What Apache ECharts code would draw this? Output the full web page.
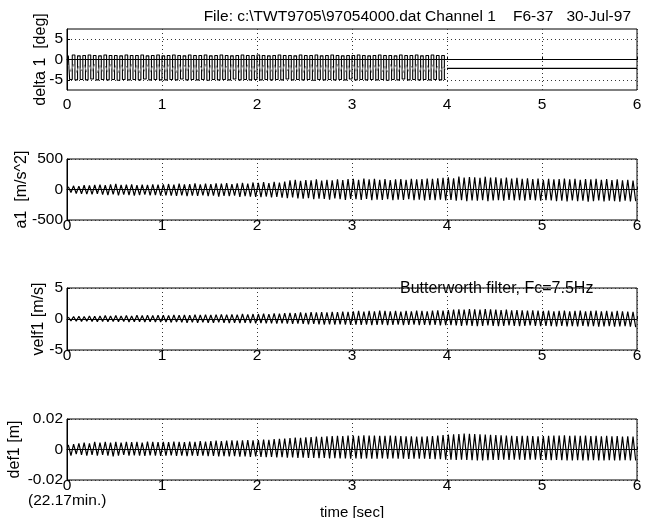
<!DOCTYPE html>
<html>
<head>
<meta charset="utf-8">
<script src="https://cdn.jsdelivr.net/npm/echarts@6/dist/echarts.min.js"></script>
<style>
html,body{margin:0;padding:0;background:#fff;}
#chart{width:650px;height:518px;}
</style>
</head>
<body>
<div id="chart"></div>
<script>
// ---- data ----
// samples are alternating peak / trough extremes, 36 per second
const HALF_CYCLE = 1 / 36;

// delta 1 [deg], 0..4 s (black command trace)
const delta1Values = [
 1.0,-4.9,1.1,-5.0,0.9,-4.9,1.0,-5.0,1.1,-4.8,1.0,-5.0,0.9,-4.9,1.1,-5.0,1.0,-4.9,1.0,-5.1,0.9,-4.9,1.1,-5.0,1.0,-4.9,1.0,-5.0,1.1,-4.8,0.9,-5.0,1.0,-4.9,1.1,-5.0,
 0.9,-5.0,1.0,-4.9,1.1,-5.0,1.0,-4.8,0.9,-5.0,1.1,-4.9,1.0,-5.0,1.0,-4.9,1.1,-5.1,0.9,-4.9,1.0,-5.0,1.1,-4.9,1.0,-5.0,0.9,-4.8,1.0,-5.0,1.1,-4.9,1.0,-5.0,1.0,-4.9,
 1.1,-5.0,1.0,-4.9,0.9,-5.0,1.0,-4.9,1.1,-5.0,1.0,-4.8,1.0,-5.0,0.9,-4.9,1.1,-5.0,1.0,-4.9,1.0,-5.1,1.1,-4.9,0.9,-5.0,1.0,-4.9,1.1,-5.0,1.0,-4.9,0.9,-5.0,1.0,-4.8,
 1.0,-5.0,1.1,-4.9,1.0,-5.0,0.9,-4.9,1.0,-5.0,1.1,-4.9,1.0,-5.1,1.0,-4.9,0.9,-5.0,1.1,-4.8,1.0,-5.0,1.0,-4.9,1.1,-5.0,0.9,-4.9,1.0,-5.0,1.1,-4.9,1.0,-5.0,1.0,-4.9
];
// delta 1 grey (measured) trace, 0..4 s
const delta1GreyValues = [
 -1.4,-3.0,-1.2,-3.2,-1.6,-2.8,-1.3,-3.1,-1.5,-2.9,-1.1,-3.3,-1.4,-2.9,-1.6,-3.1,-1.2,-3.0,-1.5,-3.2,-1.3,-2.8,-1.6,-3.1,-1.2,-3.0,-1.4,-3.2,-1.5,-2.9,-1.3,-3.1,-1.6,-3.0,-1.2,-2.9,
 -1.5,-3.1,-1.3,-2.9,-1.6,-3.2,-1.2,-3.0,-1.4,-2.8,-1.5,-3.1,-1.3,-3.0,-1.6,-2.9,-1.2,-3.2,-1.4,-3.0,-1.5,-2.9,-1.3,-3.1,-1.6,-3.0,-1.2,-2.8,-1.4,-3.2,-1.5,-3.0,-1.3,-2.9,-1.6,-3.1,
 -1.2,-3.0,-1.4,-3.2,-1.5,-2.9,-1.3,-3.1,-1.6,-3.0,-1.2,-2.8,-1.4,-3.1,-1.5,-3.0,-1.3,-3.2,-1.6,-2.9,-1.2,-3.0,-1.4,-3.1,-1.5,-2.9,-1.3,-3.0,-1.6,-3.2,-1.2,-2.9,-1.4,-3.1,-1.5,-3.0,
 -1.3,-2.9,-1.6,-3.1,-1.2,-3.0,-1.4,-3.2,-1.5,-2.8,-1.3,-3.0,-1.6,-3.1,-1.2,-2.9,-1.4,-3.0,-1.5,-3.2,-1.3,-2.9,-1.6,-3.0,-1.2,-3.1,-1.4,-2.9,-1.5,-3.0,-1.3,-3.2,-1.6,-2.9,-1.8,-2.4
];
// delta 1 held value after 4 s
const delta1HoldTimes = [4.0, 6.0];
const delta1HoldValues = [-2.2, -2.2];

// a1 [m/s^2]
const a1Values = [
 45,-50,60,-65,55,-70,70,-75,65,-80,75,-70,80,-85,70,-90,85,-80,90,-95,75,-85,80,-90,85,-100,70,-90,80,-85,75,-95,85,-90,80,-100,
 85,-95,90,-100,80,-105,95,-95,85,-110,90,-100,100,-105,85,-95,95,-110,90,-100,100,-115,95,-105,105,-110,90,-100,100,-120,110,-110,95,-115,115,-120,
 110,-125,120,-115,105,-130,125,-120,115,-135,130,-140,150,-130,160,-145,140,-150,155,-140,150,-160,165,-150,145,-155,160,-165,150,-145,165,-160,155,-170,170,-155,
 175,-160,160,-170,180,-155,165,-175,175,-165,160,-170,170,-160,155,-175,165,-165,170,-170,160,-160,175,-175,165,-165,170,-180,180,-170,175,-175,185,-165,190,-180,
 200,-170,185,-185,210,-175,195,-190,205,-180,200,-185,190,-175,210,-190,195,-180,200,-175,185,-185,195,-170,180,-180,190,-175,175,-185,185,-170,170,-180,180,-185,
 160,-175,175,-180,165,-190,170,-185,180,-195,165,-180,175,-190,160,-185,170,-200,165,-190,175,-180,160,-195,170,-185,155,-190,165,-200,150,-185,160,-195,145,-190
];

// velf1 [m/s]
const velf1Values = [
 .3,-.3,.4,-.35,.45,-.4,.4,-.35,.5,-.4,.45,-.45,.5,-.4,.55,-.45,.5,-.4,.55,-.45,.5,-.4,.55,-.5,.5,-.45,.6,-.45,.55,-.5,.6,-.45,.55,-.5,.6,-.5,
 .6,-.5,.55,-.55,.65,-.5,.6,-.55,.65,-.6,.6,-.55,.7,-.6,.65,-.55,.7,-.6,.65,-.6,.7,-.55,.75,-.6,.7,-.65,.75,-.6,.7,-.65,.8,-.6,.75,-.65,.8,-.7,
 .8,-.65,.85,-.7,.8,-.7,.9,-.75,.85,-.7,.95,-.75,1.0,-.8,.95,-.75,1.05,-.8,1.0,-.85,1.1,-.8,1.05,-.85,1.1,-.9,1.05,-.85,1.15,-.9,1.1,-.85,1.2,-.9,1.15,-.95,
 1.25,-.9,1.3,-.95,1.2,-.9,1.3,-1.0,1.25,-.95,1.35,-.9,1.3,-1.0,1.25,-.95,1.3,-.9,1.2,-1.0,1.3,-.95,1.25,-.9,1.35,-1.0,1.3,-.95,1.25,-1.0,1.35,-.95,1.4,-1.05,1.35,-1.0,
 1.45,-1.0,1.5,-1.05,1.55,-1.1,1.5,-1.05,1.6,-1.1,1.55,-1.15,1.5,-1.1,1.6,-1.05,1.55,-1.1,1.5,-1.15,1.45,-1.1,1.5,-1.05,1.4,-1.1,1.45,-1.15,1.4,-1.1,1.35,-1.05,1.4,-1.1,1.35,-1.15,
 1.3,-1.1,1.35,-1.15,1.25,-1.2,1.3,-1.1,1.35,-1.2,1.25,-1.15,1.3,-1.2,1.35,-1.1,1.25,-1.2,1.3,-1.15,1.35,-1.25,1.25,-1.2,1.3,-1.15,1.2,-1.25,1.3,-1.2,1.25,-1.15,1.2,-1.25,1.15,-1.3
];

// def1 [m]
const def1Values = [
 .003,-.004,.0035,-.003,.004,-.0035,.0045,-.004,.004,-.0035,.005,-.004,.0045,-.0035,.005,-.004,.0045,-.0045,.005,-.004,.0045,-.0035,.005,-.004,.0048,-.0038,.005,-.004,.0045,-.0042,.0052,-.0038,.005,-.004,.0048,-.0042,
 .005,-.004,.0048,-.0038,.0052,-.0042,.005,-.004,.0048,-.0044,.0052,-.004,.005,-.0042,.0055,-.004,.0052,-.0044,.0055,-.0042,.0058,-.0045,.0055,-.0043,.0058,-.0046,.006,-.0044,.0058,-.0047,.006,-.0045,.0062,-.0048,.006,-.0046,
 .0062,-.0048,.0065,-.005,.0063,-.0049,.0068,-.0052,.007,-.005,.0072,-.0053,.0075,-.0052,.0078,-.0055,.0076,-.0054,.008,-.0056,.0082,-.0055,.0085,-.0057,.0083,-.0056,.0087,-.0058,.0088,-.0057,.009,-.0059,.0088,-.0058,.0091,-.006,
 .0092,-.0058,.009,-.006,.0093,-.0059,.0091,-.0061,.0092,-.006,.009,-.0058,.0089,-.006,.0091,-.0059,.009,-.0061,.0088,-.006,.0087,-.0062,.0086,-.006,.0085,-.0061,.0084,-.006,.0086,-.0062,.0088,-.0063,.0092,-.0064,.0095,-.0066,
 .0098,-.0066,.01,-.0068,.0102,-.0067,.0104,-.0069,.0103,-.007,.0101,-.0072,.01,-.0071,.0098,-.007,.0097,-.0069,.0095,-.0068,.0093,-.0066,.0092,-.0068,.009,-.0067,.0088,-.0066,.0089,-.0068,.009,-.0067,.0088,-.0066,.0087,-.0068,
 .0088,-.0068,.009,-.007,.0092,-.0069,.0091,-.007,.0093,-.0071,.009,-.0072,.0092,-.007,.0089,-.0071,.0091,-.0072,.0088,-.007,.009,-.0071,.0087,-.0072,.0089,-.007,.0086,-.0071,.0088,-.0072,.0085,-.007,.0087,-.0071,.0084,-.0072
];

// axis tick labels
const delta1Ticks = [-5, 0, 5];
const a1Ticks = [-500, 0, 500];
const velf1Ticks = [-5, 0, 5];
const def1Ticks = [-0.02, 0, 0.02];

const titleText = 'File: c:\\TWT9705\\97054000.dat Channel 1    F6-37   30-Jul-97';
const filterNote = 'Butterworth filter, Fc=7.5Hz';
const startNote = '(22.17min.)';
const xName = 'time [sec]';
const yNames = ['delta 1  [deg]', 'a1  [m/s^2]', 'velf1 [m/s]', 'def1 [m]'];

// ---- build ----
function toPairs(values) {
  return values.map((v, i) => [(i + 0.5) * HALF_CYCLE, v]);
}
function zipPairs(ts, vs) { return ts.map((t, i) => [t, vs[i]]); }

const FONT = 'Liberation Sans, Arial, Helvetica, sans-serif';
const gridTops = [29, 159, 288, 419];
const gridHeights = [61, 61, 62, 61];
const ranges = [[-7.5, 7.5], [-500, 500], [-5, 5], [-0.02, 0.02]];
const ticksList = [delta1Ticks, a1Ticks, velf1Ticks, def1Ticks];
const nameGaps = [18, 37, 20, 44];
const labelMargins = [7, -2, -2, -2];

const grids = [], xAxes = [], yAxes = [];
for (let k = 0; k < 4; k++) {
  grids.push({left: 67, right: 13, top: gridTops[k], height: gridHeights[k], show: true,
    borderColor: '#000', borderWidth: 1, containLabel: false, outerBoundsMode: 'none'});
  xAxes.push({
    type: 'value', gridIndex: k, min: 0, max: 6, interval: 1,
    name: k === 3 ? xName : '', nameLocation: 'middle', nameGap: 25, nameMoveOverlap: false,
    nameTextStyle: {color: '#000', fontFamily: FONT, fontSize: 15},
    axisLine: {show: true, lineStyle: {color: '#000', width: 1}},
    axisTick: {show: true, inside: true, length: 3, lineStyle: {color: '#000'}},
    axisLabel: {color: '#000', fontFamily: FONT, fontSize: 15.5, margin: labelMargins[k], showMinLabel: true, showMaxLabel: true},
    splitLine: {show: true, lineStyle: {color: '#333', type: [1, 3], width: 1}}
  });
  yAxes.push({
    type: 'value', gridIndex: k, min: ranges[k][0], max: ranges[k][1],
    name: yNames[k], nameLocation: 'middle', nameRotate: 90, nameGap: nameGaps[k], nameMoveOverlap: false,
    nameTextStyle: {color: '#000', fontFamily: FONT, fontSize: 16},
    axisLine: {show: true, lineStyle: {color: '#000', width: 1}},
    axisTick: {show: true, inside: true, length: 3, customValues: ticksList[k], lineStyle: {color: '#000'}},
    axisLabel: {color: '#000', fontFamily: FONT, fontSize: 15.5, margin: 4, customValues: ticksList[k]},
    splitLine: {show: true, lineStyle: {color: '#333', type: [1, 3], width: 1}}
  });
}

function lineSeries(k, data, color, width, step) {
  return {type: 'line', xAxisIndex: k, yAxisIndex: k, data: data, showSymbol: false, symbol: 'none',
    step: step || false, lineStyle: {color: color, width: width}, animation: false, silent: true};
}

const series = [
  lineSeries(0, toPairs(delta1Values), '#000', 1.1, 'middle'),
  lineSeries(0, toPairs(delta1GreyValues), '#8c8c8c', 1),
  lineSeries(0, zipPairs(delta1HoldTimes, delta1HoldValues), '#000', 1.3),
  lineSeries(1, toPairs(a1Values), '#000', 1.2),
  lineSeries(2, toPairs(velf1Values), '#000', 1.2),
  lineSeries(3, toPairs(def1Values), '#000', 1.2)
];

const chart = echarts.init(document.getElementById('chart'), null, {renderer: 'canvas'});
chart.setOption({
  backgroundColor: '#fff',
  animation: false,
  title: {text: titleText, right: 14, top: 4, textStyle: {fontFamily: FONT, fontSize: 15.5, fontWeight: 'normal', color: '#000'}},
  grid: grids, xAxis: xAxes, yAxis: yAxes, series: series,
  graphic: [
    {type: 'text', left: 400, top: 281, style: {text: filterNote, font: '16px ' + FONT, fill: '#000'}},
    {type: 'text', left: 28, top: 493, style: {text: startNote, font: '15.5px ' + FONT, fill: '#000'}}
  ]
});
</script>
</body>
</html>
